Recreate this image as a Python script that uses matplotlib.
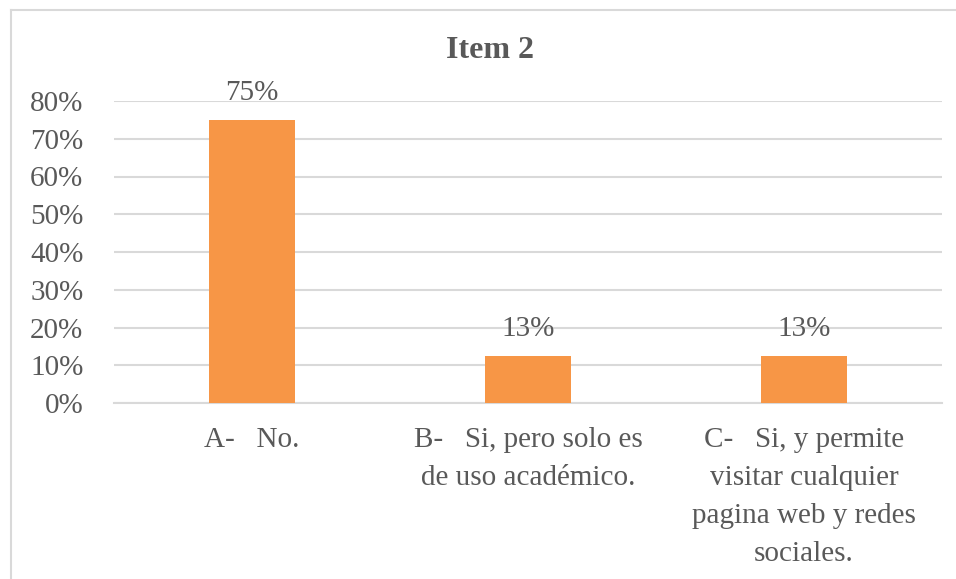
import matplotlib
matplotlib.use("Agg")
import matplotlib.pyplot as plt
from matplotlib.lines import Line2D

plt.rcParams['font.family'] = ['Liberation Serif', 'DejaVu Serif']

# datos del grafico
categorias = ["A-   No.",
              "B-   Si, pero solo es\nde uso académico.",
              "C-   Si, y permite\nvisitar cualquier\npagina web y redes\nsociales."]
valores = [0.75, 0.125, 0.125]
etiquetas = ["75%", "13%", "13%"]
ticks_y = [0, 0.1, 0.2, 0.3, 0.4, 0.5, 0.6, 0.7, 0.8]

gris = '#595959'
naranja = '#F79646'

fig = plt.figure(figsize=(9.56, 5.79), dpi=100)
ax = fig.add_axes([114/956, 1-403/579, (942-114)/956, (403-101)/579])

x = range(len(categorias))
barras = ax.bar(x, valores, width=0.31, color=naranja, zorder=3)

for b, et in zip(barras, etiquetas):
    ax.annotate(et, (b.get_x() + b.get_width()/2, b.get_height()),
                xytext=(0, 10), textcoords='offset points',
                ha='center', va='bottom', fontsize=21, color=gris)

ax.set_xlim(-0.5, 2.5)
ax.set_ylim(0, 0.8)
ax.set_yticks(ticks_y)
ax.set_yticklabels([f"{int(round(t*100))}%" for t in ticks_y])
ax.set_xticks(list(x))
ax.set_xticklabels(categorias, fontsize=21, color=gris, linespacing=1.6,
                   ha='center', va='top')
ax.tick_params(axis='y', length=0, pad=22, labelsize=21, labelcolor=gris)
ax.tick_params(axis='x', length=0, pad=17)

ax.grid(axis='y', color='#D9D9D9', linewidth=1.5, zorder=0)
for s in ['top', 'right', 'left']:
    ax.spines[s].set_visible(False)
ax.spines['bottom'].set_color('#D9D9D9')
ax.spines['bottom'].set_linewidth(1.5)

fig.text(490/956, 1-58/579, "Item 2", ha='center', va='baseline',
         fontsize=23, fontweight='bold', color=gris)

# borde del area del grafico
fig.add_artist(Line2D([11/956, 11/956], [-0.1, 1-10/579],
                      transform=fig.transFigure, color='#D9D9D9', lw=1.5))
fig.add_artist(Line2D([11/956, 1.1], [1-10/579, 1-10/579],
                      transform=fig.transFigure, color='#D9D9D9', lw=1.5))

fig.savefig("out.png", dpi=100)
